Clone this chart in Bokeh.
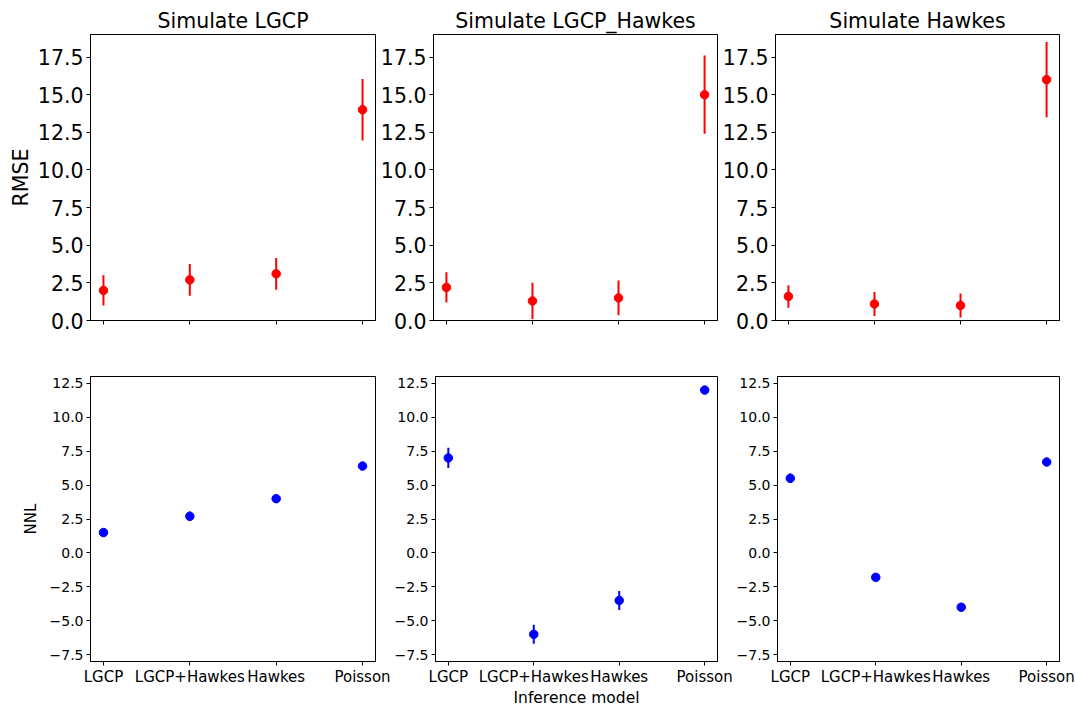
from bokeh.plotting import figure
from bokeh.layouts import column, row
from bokeh.models import Range1d, FixedTicker, CustomJSTickFormatter, Title
from bokeh.embed import file_html
from bokeh.resources import INLINE

# Inference models on the x axis
models = ["LGCP", "LGCP+Hawkes", "Hawkes", "Poisson"]
scenarios = ["Simulate LGCP", "Simulate LGCP_Hawkes", "Simulate Hawkes"]

# RMSE (mean and error) per simulation scenario
rmse_sim_lgcp = [2.0, 2.7, 3.1, 14.0]
rmse_sim_lgcp_err = [1.0, 1.05, 1.05, 2.05]
rmse_sim_lgcp_hawkes = [2.2, 1.3, 1.5, 15.0]
rmse_sim_lgcp_hawkes_err = [1.0, 1.2, 1.15, 2.6]
rmse_sim_hawkes = [1.6, 1.1, 1.0, 16.0]
rmse_sim_hawkes_err = [0.75, 0.8, 0.8, 2.5]

# NNL (mean and error) per simulation scenario
nnl_sim_lgcp = [1.5, 2.7, 4.0, 6.4]
nnl_sim_lgcp_err = [0.1, 0.35, 0.15, 0.1]
nnl_sim_lgcp_hawkes = [7.0, -6.0, -3.5, 12.0]
nnl_sim_lgcp_hawkes_err = [0.75, 0.7, 0.7, 0.1]
nnl_sim_hawkes = [5.5, -1.8, -4.0, 6.7]
nnl_sim_hawkes_err = [0.35, 0.1, 0.1, 0.1]

rmse_ticks = [0.0, 2.5, 5.0, 7.5, 10.0, 12.5, 15.0, 17.5]
nnl_ticks = [-7.5, -5.0, -2.5, 0.0, 2.5, 5.0, 7.5, 10.0, 12.5]

rmse_series = [(rmse_sim_lgcp, rmse_sim_lgcp_err),
               (rmse_sim_lgcp_hawkes, rmse_sim_lgcp_hawkes_err),
               (rmse_sim_hawkes, rmse_sim_hawkes_err)]
nnl_series = [(nnl_sim_lgcp, nnl_sim_lgcp_err),
              (nnl_sim_lgcp_hawkes, nnl_sim_lgcp_hawkes_err),
              (nnl_sim_hawkes, nnl_sim_hawkes_err)]

FONT = "DejaVu Sans"
FRAME_W, FRAME_H = 285, 286
X_START, X_END = -0.15, 3.15
xs = list(range(len(models)))
minus_fmt = CustomJSTickFormatter(code="return tick.toFixed(1).replace('-', '\u2212');")


def make_panel(vals, errs, color, yrange, yticks, tick_size, borders, title=None,
               show_xlabels=False):
    left, right, top, bottom = borders
    p = figure(width=left + FRAME_W + right, height=top + FRAME_H + bottom,
               x_range=Range1d(X_START, X_END), y_range=Range1d(*yrange),
               output_backend="svg", toolbar_location=None, title=title,
               min_border_left=left, min_border_right=right,
               min_border_top=top, min_border_bottom=bottom,
               background_fill_color="white", border_fill_color="white")
    p.grid.visible = False
    p.outline_line_color = "black"
    p.outline_line_width = 1
    p.outline_line_alpha = 1

    lower = [v - e for v, e in zip(vals, errs)]
    upper = [v + e for v, e in zip(vals, errs)]
    p.segment(x0=xs, y0=lower, x1=xs, y1=upper, line_color=color, line_width=2)
    p.scatter(x=xs, y=vals, size=8.5, fill_color=color, line_color=color)

    for ax in (p.xaxis[0], p.yaxis[0]):
        ax.axis_line_color = "black"
        ax.major_tick_line_color = "black"
        ax.major_tick_out = 4
        ax.major_tick_in = 0
        ax.minor_tick_line_color = None
        ax.major_label_text_font = FONT
        ax.major_label_text_color = "black"
        ax.axis_label_text_font = FONT
        ax.axis_label_text_font_style = "normal"
        ax.axis_label_text_color = "black"

    p.xaxis.ticker = FixedTicker(ticks=xs)
    if show_xlabels:
        p.xaxis.major_label_overrides = {i: m for i, m in zip(xs, models)}
        p.xaxis.major_label_text_font_size = "15px"
        p.xaxis.major_label_standoff = 2
    else:
        p.xaxis.major_label_overrides = {i: "" for i in xs}
        p.xaxis.major_label_text_font_size = "0px"
        p.xaxis.major_label_standoff = 0

    p.yaxis.ticker = FixedTicker(ticks=yticks)
    p.yaxis.formatter = minus_fmt
    p.yaxis.major_label_text_font_size = tick_size
    p.yaxis.major_label_standoff = 3

    if title is not None:
        p.title.align = "center"
        p.title.text_font = FONT
        p.title.text_font_size = "20.5px"
        p.title.text_font_style = "normal"
        p.title.text_color = "black"
        p.title.standoff = 4
    return p


# (left, right, top, bottom) borders around each 285x286 frame
top_borders = [(90, 2, 34, 28), (55, 2, 34, 28), (55, 16, 34, 28)]
bottom_borders = [(90, 16, 28, 42), (41, 16, 28, 42), (41, 16, 28, 42)]

top_row = []
for i, ((vals, errs), name) in enumerate(zip(rmse_series, scenarios)):
    p = make_panel(vals, errs, "#ff0000", (0, 19), rmse_ticks, "20.5px",
                   top_borders[i], title=name)
    if i == 0:
        p.yaxis.axis_label = "RMSE"
        p.yaxis.axis_label_text_font_size = "20.5px"
        p.yaxis.axis_label_standoff = 2
    top_row.append(p)

bottom_row = []
for i, (vals, errs) in enumerate(nnl_series):
    p = make_panel(vals, errs, "#0000ff", (-8, 13), nnl_ticks, "14px",
                   bottom_borders[i], show_xlabels=True)
    if i == 0:
        p.yaxis.axis_label = "NNL"
        p.yaxis.axis_label_text_font_size = "15px"
        p.yaxis.axis_label_standoff = 7
    if i == 1:
        # shared x title for the whole grid, tucked under the middle panel's tick labels
        p.add_layout(Title(text="Inference model", align="center", standoff=-4,
                           text_font=FONT, text_font_size="15.5px",
                           text_font_style="normal", text_color="black"), "below")
    bottom_row.append(p)

layout = column(row(*top_row, spacing=0), row(*bottom_row, spacing=0), spacing=0)

with open("out.html", "w", encoding="utf-8") as f:
    f.write(file_html(layout, INLINE, title="RMSE and NNL by inference model"))
